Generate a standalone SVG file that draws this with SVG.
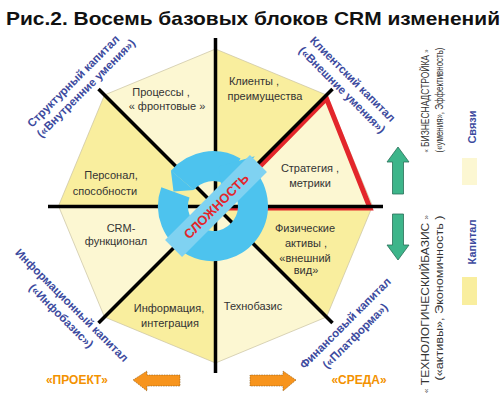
<svg xmlns="http://www.w3.org/2000/svg" width="500" height="403" viewBox="0 0 500 403">
<style>
.seg{font-family:"Liberation Sans",Arial,sans-serif;font-size:11px;fill:#333;text-anchor:middle}
.cap{font-family:"Liberation Sans",Arial,sans-serif;font-size:11.5px;font-weight:bold;fill:#3C4A9E;text-anchor:middle}
.side{font-family:"Liberation Sans",Arial,sans-serif;font-size:10.5px;fill:#333;text-anchor:middle}
.leg{font-family:"Liberation Sans",Arial,sans-serif;font-size:11px;font-weight:bold;fill:#3C4A9E;text-anchor:middle}
.org{font-family:"Liberation Sans",Arial,sans-serif;font-size:12px;font-weight:bold;fill:#F39200;text-anchor:middle}
.light{fill:#FCF7D2;stroke:#C8C2A0;stroke-width:0.7}
.dark{fill:#F9EE9E;stroke:#C8C2A0;stroke-width:0.7}
.ring{fill:none;stroke:#4DC3EE;stroke-width:30}
.blue{fill:#4DC3EE}
.oarr{fill:#F7941D;stroke:#8A5A1A;stroke-width:0.6;stroke-dasharray:1.5 1}
.garr{fill:#3DB58A;stroke:#2A6E58;stroke-width:0.8}
</style>
<text x="6" y="25" font-family="Liberation Sans, Arial, sans-serif" font-size="19" font-weight="bold" fill="#111" textLength="494" lengthAdjust="spacingAndGlyphs">Рис.2. Восемь базовых блоков CRM изменений</text>

<g id="segments">
<polygon id="seg-processes" class="light" points="215.5,206 215.5,49 104.5,95"/>
<polygon id="seg-personal" class="dark" points="215.5,206 104.5,95 58.5,206"/>
<polygon id="seg-crm" class="light" points="215.5,206 58.5,206 104.5,317"/>
<polygon id="seg-info" class="dark" points="215.5,206 104.5,317 215.5,363"/>
<polygon id="seg-techno" class="light" points="215.5,206 215.5,363 326.5,317"/>
<polygon id="seg-phys" class="dark" points="215.5,206 326.5,317 372.5,206"/>
<polygon id="seg-strategy" class="light" points="215.5,206 372.5,206 326.5,95"/>
<polygon id="seg-clients" class="dark" points="215.5,206 326.5,95 215.5,49"/>
</g>

<g id="red-triangle">
<polygon points="219,208 326.5,98.5 370,208" fill="none" stroke="#E3262B" stroke-width="5" stroke-linejoin="miter"/>
</g>

<g id="connectors" stroke="#000" stroke-width="3.5" stroke-linecap="butt">
<line x1="215.5" y1="38" x2="215.5" y2="373"/>
<line x1="48" y1="206.5" x2="383" y2="206.5"/>
<line x1="98.5" y1="89" x2="332.5" y2="323"/>
<line x1="332.5" y1="89" x2="98.5" y2="323"/>
</g>

<g id="seg-labels">
<text class="seg" x="165" y="96"><tspan x="161">Процессы ,</tspan><tspan x="167" dy="14">« фронтовые »</tspan></text>
<text class="seg" x="260" y="85"><tspan x="254">Клиенты ,</tspan><tspan x="265" dy="15">преимущества</tspan></text>
<text class="seg" x="310" y="172"><tspan x="310">Стратегия ,</tspan><tspan x="310" dy="15">метрики</tspan></text>
<text class="seg" x="305" y="232"><tspan x="305">Физические</tspan><tspan x="306" dy="15">активы ,</tspan><tspan x="305" dy="15">«внешний</tspan><tspan x="306" dy="12">вид»</tspan></text>
<text class="seg" x="253" y="310">Технобазис</text>
<text class="seg" x="169" y="312"><tspan x="169">Информация,</tspan><tspan x="170" dy="15">интеграция</tspan></text>
<text class="seg" x="117" y="232"><tspan x="121">CRM-</tspan><tspan x="116" dy="13">функционал</tspan></text>
<text class="seg" x="108" y="179"><tspan x="111">Персонал,</tspan><tspan x="105" dy="16">способности</tspan></text>
</g>

<g id="cycle">
<path class="ring" d="M175.4,192.3 A40,40 0 1 0 238.7,175.4"/>
<path class="ring" d="M233,171.4 A40,40 0 0 0 182.4,180.3"/>
<polygon class="blue" points="193.9,189.9 170.9,170.6 173.5,191.6"/>
<polygon class="blue" points="222.6,194.5 254.8,156.2 218.6,166.4"/>
<rect x="156" y="194" width="120" height="24" fill="#7FD2F1" transform="rotate(-45 216 206)"/>
<text x="216" y="211" font-family="Liberation Sans, Arial, sans-serif" font-size="13" font-weight="bold" fill="#E3262B" text-anchor="middle" transform="rotate(-45 216 206)">СЛОЖНОСТЬ</text>
</g>

<g id="capitals">
<text class="cap" transform="translate(76,84) rotate(-45)"><tspan x="0" y="0">Структурный капитал</tspan><tspan x="4" y="14">(«Внутренние умения»)</tspan></text>
<text class="cap" transform="translate(350,82) rotate(45)"><tspan x="0" y="0">Клиентский капитал</tspan><tspan x="0" y="15">(«Внешние умения»)</tspan></text>
<text class="cap" transform="translate(69,308) rotate(45)"><tspan x="0" y="0">Информационный капитал</tspan><tspan x="0" y="15">(«Инфобазис»)</tspan></text>
<text class="cap" transform="translate(348,326) rotate(-45)"><tspan x="0" y="0">Финансовый капитал</tspan><tspan x="-2" y="16">(«Платформа»)</tspan></text>
</g>

<g id="project">
<polygon class="oarr" points="133,380 147,371 147,375 180,375 180,386 147,386 147,391"/>
<text class="org" x="77" y="384">«ПРОЕКТ»</text>
</g>
<g id="environment">
<polygon class="oarr" points="296,380 283,371 283,375 250,375 250,386 283,386 283,391"/>
<text class="org" x="359" y="384">«СРЕДА»</text>
</g>

<g id="business">
<polygon class="garr" points="398,147 409,162 403.5,162 403.5,194 392.5,194 392.5,162 387,162"/>
<text class="side" transform="translate(429,101) rotate(-90)" textLength="103" lengthAdjust="spacingAndGlyphs"><tspan font-size="7">«</tspan> БИЗНЕСНАДСТРОЙКА <tspan font-size="7">»</tspan></text>
<text class="side" transform="translate(443,100) rotate(-90)" textLength="105" lengthAdjust="spacingAndGlyphs">(«умения», Эффективность)</text>
</g>
<g id="techno">
<polygon class="garr" points="398,260 409,245 403.5,245 403.5,214 392.5,214 392.5,245 387,245"/>
<text class="side" transform="translate(429,304) rotate(-90)" textLength="178" lengthAdjust="spacingAndGlyphs"><tspan font-size="7">«</tspan> ТЕХНОЛОГИЧЕСКИЙБАЗИС <tspan font-size="7">»</tspan></text>
<text class="side" transform="translate(443,298) rotate(-90)" textLength="165" lengthAdjust="spacingAndGlyphs">(«активы», Экономичность )</text>
</g>

<g id="legend">
<text class="leg" transform="translate(476,127) rotate(-90)">Связи</text>
<rect x="462" y="158" width="15" height="27" fill="#FCF7D2"/>
<text class="leg" transform="translate(476,242) rotate(-90)">Капитал</text>
<rect x="462" y="277" width="15" height="28" fill="#F9EE9E"/>
</g>
</svg>
